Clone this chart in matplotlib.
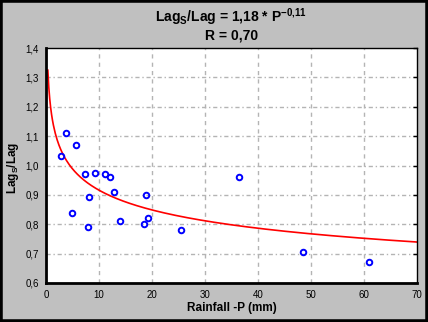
import numpy as np
import matplotlib
matplotlib.use("Agg")
import matplotlib.pyplot as plt
from matplotlib.patches import Rectangle

# Data
rain_p = [2.9, 3.8, 5.6, 7.3, 9.2, 11.1, 12.1, 4.9, 8.1, 7.9, 12.8, 14.0,
          18.5, 18.8, 19.2, 25.4, 36.5, 48.4, 61.0]
lag_ratio = [1.032, 1.11, 1.071, 0.972, 0.974, 0.972, 0.962, 0.84, 0.892, 0.79,
             0.909, 0.81, 0.80, 0.90, 0.82, 0.78, 0.961, 0.704, 0.671]
fit_a = 1.18
fit_b = -0.11
x_ticks = [0, 10, 20, 30, 40, 50, 60, 70]
y_ticks = [0.6, 0.7, 0.8, 0.9, 1.0, 1.1, 1.2, 1.3, 1.4]

plt.rcParams['font.family'] = ['Liberation Sans', 'DejaVu Sans']
plt.rcParams['mathtext.default'] = 'regular'

fig = plt.figure(figsize=(4.28, 3.22), dpi=100, facecolor='#c0c0c0')
ax = fig.add_axes([46/428, 1-283/322, (417-46)/428, (283-48)/322])
ax.set_facecolor('white')

# grid
for xv in x_ticks[1:-1]:
    ax.axvline(xv, color='#b4b4b4', lw=1.0, ls=(0, (3, 3)), zorder=0)
for yv in y_ticks[1:-1]:
    ax.axhline(yv, color='#b4b4b4', lw=1.0, ls=(0, (3, 2, 1, 2)), zorder=0)

xf = np.linspace(0.35, 70, 400)
ax.plot(xf, fit_a * xf ** fit_b, color='#ff0000', lw=1.2, zorder=2)
ax.plot(rain_p, lag_ratio, ls='none', marker='o', ms=4.0, mfc='none',
        mec='#0000ff', mew=1.4, zorder=3)

ax.set_xlim(0, 70)
ax.set_ylim(0.6, 1.4)
ax.set_xticks(x_ticks)
ax.set_yticks(y_ticks)
ax.set_xticklabels([str(v) for v in x_ticks])
ax.set_yticklabels([f"{v:.1f}".replace('.', ',') for v in y_ticks])
ax.tick_params(axis='x', length=0, pad=5, labelsize=7)
ax.tick_params(axis='y', which='both', left=False, right=True, direction='in',
               length=3, width=1, pad=5, labelsize=7)
for s in ['left', 'bottom']:
    ax.spines[s].set_linewidth(2)
for s in ['top', 'right']:
    ax.spines[s].set_linewidth(1)

fig.text(0.54, 1-17/322, r"Lag$_{S}$/Lag = 1,18 * P$^{-0{,}11}$", ha='center', va='center',
         fontsize=10, fontweight='bold')
fig.text(0.54, 1-35/322, "R = 0,70", ha='center', va='center',
         fontsize=10, fontweight='bold')
fig.text(232/428, 1-308/322, "Rainfall -P (mm)", ha='center', va='center',
         fontsize=8.5, fontweight='bold')
fig.text(13/428, 1-168/322, r"Lag$_{S}$/Lag", ha='center', va='center', rotation=90,
         fontsize=8.5, fontweight='bold')

fig.add_artist(Rectangle((0, 0), 1, 1, transform=fig.transFigure, fill=False,
                         edgecolor='black', lw=4, clip_on=False))

fig.savefig('out.png', dpi=100, facecolor=fig.get_facecolor())
